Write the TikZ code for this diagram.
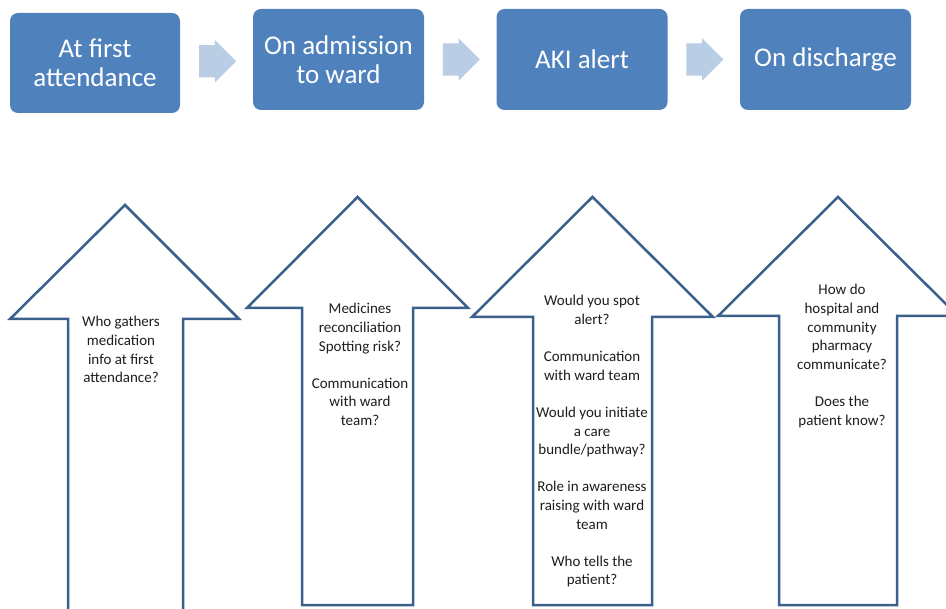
\documentclass[tikz,border=0pt]{standalone}
\usepackage{fontspec}
\setmainfont{Carlito}
\usepackage{xcolor}
\usetikzlibrary{shapes.arrows, positioning, calc}
\definecolor{stagefill}{RGB}{79,129,189}
\definecolor{stepfill}{RGB}{185,205,229}
\definecolor{upline}{RGB}{60,96,140}
\definecolor{qtext}{RGB}{30,30,30}
\tikzset{
    stage/.style={rectangle, rounded corners=8pt, minimum width=171pt, minimum height=101pt, fill=stagefill, text=white, align=center, font=\fontsize{27}{29.5}\selectfont},
    stepar/.style={single arrow, fill=stepfill, minimum height=37pt, inner xsep=0pt, inner ysep=16pt, single arrow head extend=5pt, xshift=-7pt},
    uparrow/.style={draw=upline, line width=2.5pt, fill=white, line join=miter},
    question/.style={align=center, anchor=north, text=qtext, font=\fontsize{15}{18.6}\selectfont}
}

\begin{document}
\begin{tikzpicture}[x=1pt, y=-1pt]
    \path[use as bounding box] (0,0) rectangle (946,609);
    \clip (0,0) rectangle (946,609);

    % Stages along the top
    \node (first) [stage, minimum width=170pt, minimum height=100pt] at (95,63) {At first\\attendance};
    \node (admit) [stage] at (338.5,59.5) {On admission\\to ward};
    \node (aki) [stage] at (582,59.5) {AKI alert};
    \node (discharge) [stage] at (825.5,59.5) {On discharge};

    % Block arrows between stages
    \node (s1) [stepar] at ($(first.east)!0.5!(admit.west)$) {};
    \node (s2) [stepar] at ($(admit.east)!0.5!(aki.west)$) {};
    \node (s3) [stepar] at ($(aki.east)!0.5!(discharge.west)$) {};

    % Big up arrows
    \draw [uparrow] (125,205) -- (239,319) -- (183,319) -- (183,620) -- (68,620) -- (68,319) -- (10,319) -- cycle;
    \draw [uparrow] (357.5,197) -- (468,308) -- (413,308) -- (413,605) -- (302,605) -- (302,308) -- (247,308) -- cycle;
    \draw [uparrow] (592.5,197) -- (713,317) -- (652,317) -- (652,605) -- (533,605) -- (533,317) -- (472,317) -- cycle;
    \draw [uparrow] (838,197) -- (958,316) -- (897,316) -- (897,605) -- (779,605) -- (779,316) -- (718,316) -- cycle;

    % Questions inside the arrows
    \node (qfirst) [question] at (121,313) {Who gathers\\medication\\info at first\\attendance?};
    \node (qadmit) [question] at (360,300) {Medicines\\reconciliation\\Spotting risk?\\[18.6pt]Communication\\with ward\\team?};
    \node (qaki) [question] at (592,292) {Would you spot\\alert?\\[18.6pt]Communication\\with ward team\\[18.6pt]Would you initiate\\a care\\bundle/pathway?\\[18.6pt]Role in awareness\\raising with ward\\team\\[18.6pt]Who tells the\\patient?};
    \node (qdischarge) [question] at (842,281) {How do\\hospital and\\community\\pharmacy\\communicate?\\[18.6pt]Does the\\patient know?};
\end{tikzpicture}
\end{document}
